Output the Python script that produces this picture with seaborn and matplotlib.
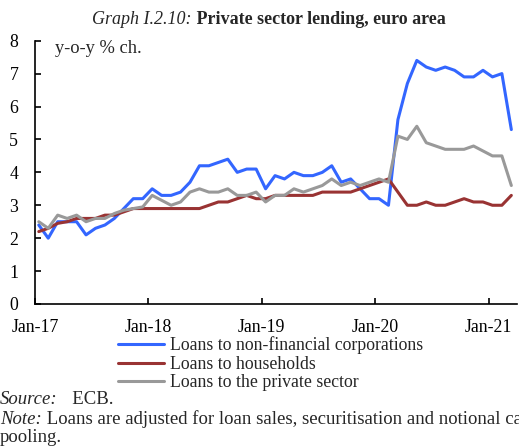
import numpy as np
import pandas as pd
import seaborn as sns
import matplotlib.pyplot as plt

# monthly y-o-y growth, Jan-17 .. Mar-21
months = pd.date_range("2017-01-01", "2021-03-01", freq="MS")
nfc = [2.4, 2.0, 2.5, 2.5, 2.5, 2.1, 2.3, 2.4, 2.6, 2.9, 3.2, 3.2,
       3.5, 3.3, 3.3, 3.4, 3.7, 4.2, 4.2, 4.3, 4.4, 4.0, 4.1, 4.1,
       3.5, 3.9, 3.8, 4.0, 3.9, 3.9, 4.0, 4.2, 3.7, 3.8, 3.5, 3.2,
       3.2, 3.0, 5.6, 6.7, 7.4, 7.2, 7.1, 7.2, 7.1, 6.9, 6.9, 7.1,
       6.9, 7.0, 5.3]
households = [2.2, 2.3, 2.45, 2.5, 2.6, 2.6, 2.6, 2.7, 2.7, 2.8, 2.9, 2.9,
              2.9, 2.9, 2.9, 2.9, 2.9, 2.9, 3.0, 3.1, 3.1, 3.2, 3.3, 3.2,
              3.2, 3.3, 3.3, 3.3, 3.3, 3.3, 3.4, 3.4, 3.4, 3.4, 3.5, 3.6,
              3.7, 3.8, 3.4, 3.0, 3.0, 3.1, 3.0, 3.0, 3.1, 3.2, 3.1, 3.1,
              3.0, 3.0, 3.3]
private = [2.5, 2.3, 2.7, 2.6, 2.7, 2.5, 2.6, 2.6, 2.75, 2.85, 2.9, 2.95,
           3.3, 3.15, 3.0, 3.1, 3.4, 3.5, 3.4, 3.4, 3.5, 3.3, 3.3, 3.4,
           3.1, 3.3, 3.3, 3.5, 3.4, 3.5, 3.6, 3.8, 3.6, 3.7, 3.6, 3.7,
           3.8, 3.7, 5.1, 5.0, 5.4, 4.9, 4.8, 4.7, 4.7, 4.7, 4.8, 4.65,
           4.5, 4.5, 3.6]
series = ["Loans to non-financial corporations", "Loans to households",
          "Loans to the private sector"]
colors = ["#3366FF", "#993333", "#999999"]
tick_labels = ["Jan-17", "Jan-18", "Jan-19", "Jan-20", "Jan-21"]

idx = np.arange(len(months))
df = pd.concat([
    pd.DataFrame({"t": idx, "value": vals, "series": name})
    for name, vals in zip(series, [nfc, households, private])
])

sns.set_theme(style="white")
plt.rcParams["font.family"] = ["Liberation Serif", "DejaVu Serif"]
plt.rcParams["font.size"] = 12

fig = plt.figure(figsize=(5.19, 4.47), dpi=100)
ax = fig.add_axes([35 / 519, 143 / 447, 482 / 519, 263.3 / 447])

sns.lineplot(data=df, x="t", y="value", hue="series", hue_order=series,
             palette=colors, linewidth=2.2, ax=ax)

ax.set_xlim(-0.4, 50.6)
ax.set_ylim(0, 8)
jan = [i for i, m in enumerate(months) if m.month == 1]
ax.set_xticks(np.array(jan) - 0.4)
ax.set_xticklabels(tick_labels)
ax.set_yticks(range(0, 9))
ax.set_xlabel("")
ax.set_ylabel("")
for s in ["top", "right"]:
    ax.spines[s].set_visible(False)
for s in ["left", "bottom"]:
    ax.spines[s].set_color("black")
    ax.spines[s].set_linewidth(1.2)
ax.tick_params(axis="both", direction="in", length=4, width=1.2,
               colors="black", labelsize=12.8)
ax.tick_params(axis="x", pad=10.5)
ax.tick_params(axis="y", pad=12, left=True)
ax.tick_params(axis="x", bottom=True)

ax.text(20 / 482, 7.75, "y-o-y % ch.", transform=ax.get_yaxis_transform(),
        fontsize=13.3, va="center", ha="left")

sns.move_legend(ax, "upper left", bbox_to_anchor=(118 / 519, 1 - 336.5 / 447),
                bbox_transform=fig.transFigure, frameon=False, title=None,
                fontsize=12.8, handlelength=2.6, handletextpad=0.3,
                labelspacing=0.08, borderpad=0, borderaxespad=0)
for line in ax.get_legend().get_lines():
    line.set_linewidth(2.2)

t1 = fig.text(92 / 519, 1 - 20 / 447, "Graph I.2.10:", fontstyle="italic",
              fontsize=13, va="center", ha="left")
ax.annotate(" Private sector lending, euro area", xy=(1, 0.5), xycoords=t1,
            va="center", ha="left", fontweight="bold", fontsize=13,
            annotation_clip=False)

t2 = fig.text(0, 1 - 400 / 447, "Source:", fontstyle="italic",
              fontsize=13.5, va="center", ha="left")
ax.annotate("   ECB.", xy=(1, 0.5), xycoords=t2, va="center", ha="left",
            fontsize=13.5, annotation_clip=False)
t3 = fig.text(0, 1 - 419 / 447, "Note:", fontstyle="italic",
              fontsize=13.5, va="center", ha="left")
ax.annotate(" Loans are adjusted for loan sales, securitisation and notional cash",
            xy=(1, 0.5), xycoords=t3, va="center", ha="left", fontsize=13.5,
            annotation_clip=False)
fig.text(0, 1 - 437 / 447, "pooling.", fontsize=13.5, va="center", ha="left")

fig.savefig("out.png", dpi=100)
